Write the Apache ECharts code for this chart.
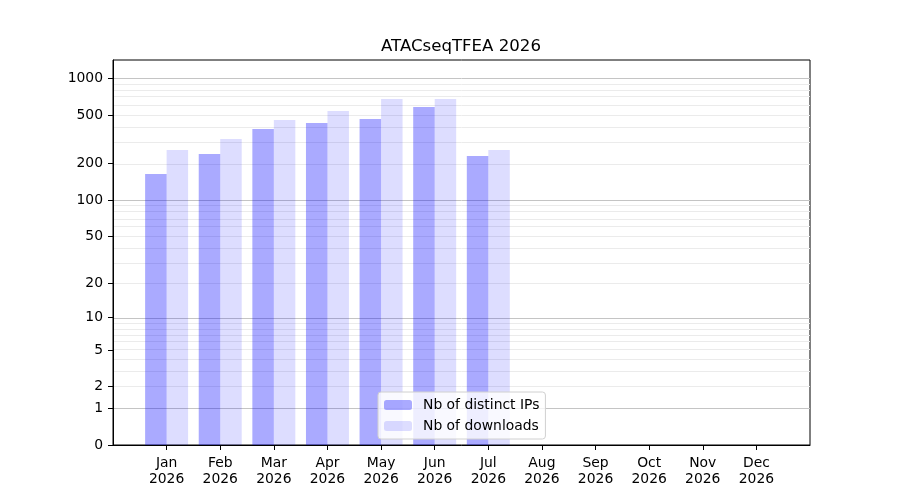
<!DOCTYPE html>
<html>
<head>
<meta charset="utf-8">
<script src="https://cdn.jsdelivr.net/npm/echarts@6/dist/echarts.min.js"></script>
<style>html,body{margin:0;padding:0;background:#fff;}#c{width:900px;height:500px;}</style>
</head>
<body>
<div id="c"></div>
<script>
const months = ['Jan','Feb','Mar','Apr','May','Jun','Jul','Aug','Sep','Oct','Nov','Dec'];
const yearLabel = '2026';
const distinctIPs = [164, 239, 384, 430, 465, 583, 231];
const downloads = [258, 318, 456, 540, 677, 677, 258];
const yTicks = [0, 1, 2, 5, 10, 20, 50, 100, 200, 500, 1000];
const gridValues = [1,2,3,4,5,6,7,8,9,10,20,30,40,50,60,70,80,90,100,200,300,400,500,600,700,800,900,1000];
const majorGrid = [1, 10, 100, 1000];
const yMaxValue = 1412;

const tf = v => Math.log10(1 + v);
const font = 'DejaVu Sans';

const chart = echarts.init(document.getElementById('c'), null, {renderer: 'canvas'});
chart.setOption({
  animation: false,
  title: {
    text: 'ATACseqTFEA 2026', left: 381, top: 38, padding: 0,
    textStyle: {fontFamily: font, fontSize: 16.6, fontWeight: 'normal', color: '#000'}
  },
  grid: {left: 113, right: 90, top: 60, bottom: 55, show: true, borderColor: '#000', borderWidth: 1, backgroundColor: 'transparent'},
  legend: {
    left: 378, top: 392, orient: 'vertical',
    itemWidth: 28, itemHeight: 10, itemGap: 5,
    padding: [5, 6, 5, 6],
    backgroundColor: 'rgba(255,255,255,0.8)', borderColor: '#d0d0d0', borderWidth: 1, borderRadius: 3,
    textStyle: {fontFamily: font, fontSize: 13.9, color: '#000', lineHeight: 16, padding: [0, 0, 0, 6]},
    data: ['Nb of distinct IPs', 'Nb of downloads']
  },
  xAxis: {
    type: 'value', min: -1, max: 12,
    axisLine: {show: true, onZero: false, lineStyle: {color: '#000'}},
    axisTick: {show: true, length: 5, lineStyle: {color: '#000'}, customValues: months.map((m, i) => i)},
    axisLabel: {
      customValues: months.map((m, i) => i),
      formatter: v => months[Math.round(v)] + '\n' + yearLabel,
      fontFamily: font, fontSize: 13.9, color: '#000', lineHeight: 16, margin: 10
    },
    splitLine: {show: false}
  },
  yAxis: {
    type: 'value', min: 0, max: tf(yMaxValue),
    axisLine: {show: true, onZero: false, lineStyle: {color: '#000'}},
    axisTick: {show: true, length: 5, lineStyle: {color: '#000'}, customValues: yTicks.map(tf)},
    axisLabel: {
      customValues: yTicks.map(tf),
      formatter: v => String(Math.round(Math.pow(10, v) - 1)),
      fontFamily: font, fontSize: 13.9, color: '#000', margin: 10
    },
    splitLine: {show: false}
  },
  series: [
    {
      name: 'gridlines', type: 'line', z: 0, data: [], silent: true,
      markLine: {
        z: 0, silent: true, symbol: ['none', 'none'], label: {show: false}, animation: false,
        data: gridValues.map(v => ({
          yAxis: tf(v),
          lineStyle: {color: majorGrid.includes(v) ? '#c4c4c4' : '#ebebeb', width: 1, type: 'solid'}
        }))
      }
    },
    {
      name: 'Nb of distinct IPs', type: 'bar', z: 3,
      barWidth: 21.5, barGap: '0%',
      itemStyle: {color: 'rgba(0,0,255,0.333)'},
      data: distinctIPs.map((v, i) => [i, tf(v)])
    },
    {
      name: 'Nb of downloads', type: 'bar', z: 3,
      barWidth: 21.5, barGap: '0%',
      itemStyle: {color: 'rgba(0,0,255,0.133)'},
      data: downloads.map((v, i) => [i, tf(v)])
    }
  ]
});
</script>
</body>
</html>
